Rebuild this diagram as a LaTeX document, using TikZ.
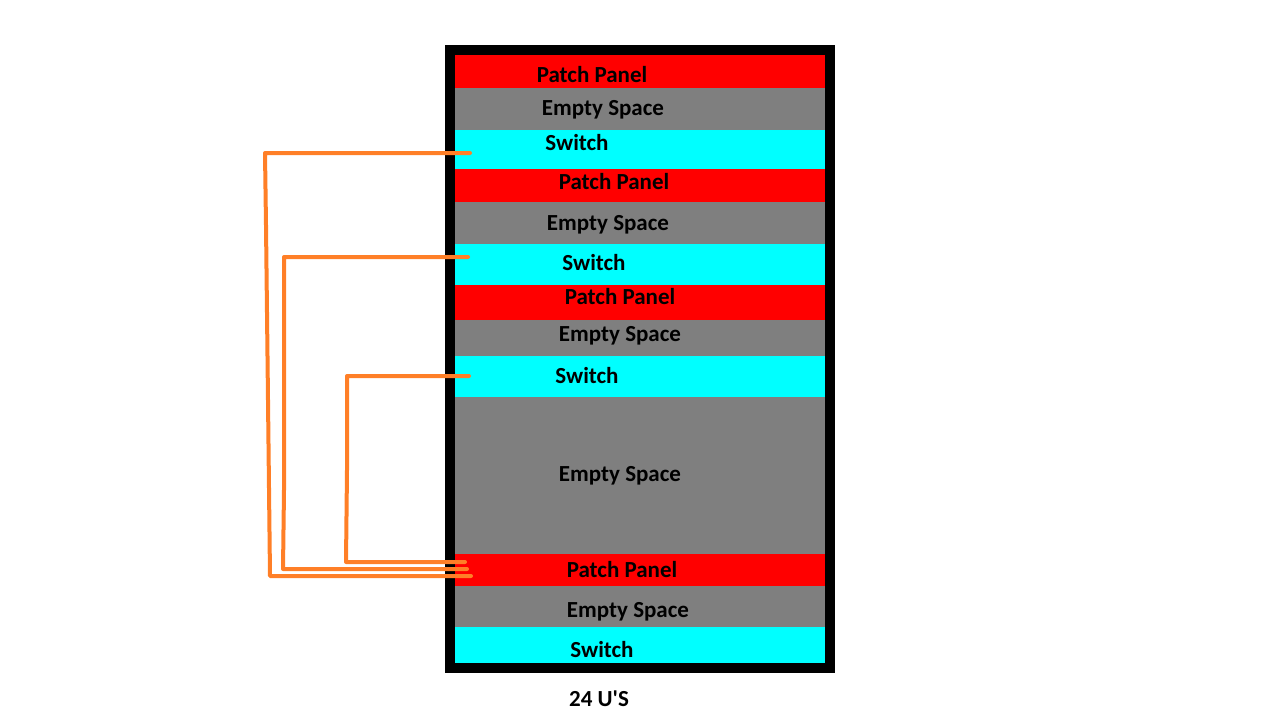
\documentclass[tikz,border=0pt]{standalone}
\usepackage{fontspec}
\setmainfont{Carlito}
\definecolor{pporange}{HTML}{FF7F27}
\definecolor{ppgray}{HTML}{7F7F7F}
\definecolor{ppcyan}{HTML}{00FFFF}
\definecolor{ppred}{HTML}{FF0000}
\begin{document}
\begin{tikzpicture}[x=1pt,y=-1pt,
  band/.style={draw=none,inner sep=0pt,outer sep=0pt,minimum width=370pt,anchor=north west},
  pp/.style={band,fill=ppred},
  es/.style={band,fill=ppgray},
  sw/.style={band,fill=ppcyan},
  lbl/.style={font=\fontsize{23}{26}\selectfont\bfseries,text=black,inner sep=0pt},
  cable/.style={draw=pporange,line width=4pt,line cap=round,line join=round}]
\useasboundingbox (0,0) rectangle (1280,720);
\fill[black] (445,45) rectangle (835,673);
% bands
\node[pp,minimum height=33pt] (pp1) at (455,55) {};
\node[es,minimum height=42pt] (es1) at (455,88) {};
\node[sw,minimum height=39pt] (sw1) at (455,130) {};
\node[pp,minimum height=33pt] (pp2) at (455,169) {};
\node[es,minimum height=42pt] (es2) at (455,202) {};
\node[sw,minimum height=41pt] (sw2) at (455,244) {};
\node[pp,minimum height=35pt] (pp3) at (455,285) {};
\node[es,minimum height=36pt] (es3) at (455,320) {};
\node[sw,minimum height=41pt] (sw3) at (455,356) {};
\node[es,minimum height=157pt] (es4) at (455,397) {};
\node[pp,minimum height=32pt] (pp4) at (455,554) {};
\node[es,minimum height=41pt] (es5) at (455,586) {};
\node[sw,minimum height=36pt] (sw4) at (455,627) {};
% labels
\node[lbl] (t1) at (592,75) {Patch Panel};
\node[lbl] (t2) at (603,109.5) {Empty Space};
\node[lbl] (t3) at (577,143) {Switch};
\node[lbl] (t4) at (614,182) {Patch Panel};
\node[lbl] (t5) at (608,224.5) {Empty Space};
\node[lbl] (t6) at (594,263) {Switch};
\node[lbl] (t7) at (620,297) {Patch Panel};
\node[lbl] (t8) at (620,335.5) {Empty Space};
\node[lbl] (t9) at (587,376) {Switch};
\node[lbl] (t10) at (620,475.5) {Empty Space};
\node[lbl] (t11) at (622,570) {Patch Panel};
\node[lbl] (t12) at (628,611.5) {Empty Space};
\node[lbl] (t13) at (602,650) {Switch};
\node[lbl] (t14) at (599,699) {24 U\textquotesingle S};
% cable endpoints
\coordinate (s1) at (470,153);
\coordinate (s2) at (468,257);
\coordinate (s3) at (469,376);
\coordinate (p1) at (471,576);
\coordinate (p2) at (467,569);
\coordinate (p3) at (465,562);
% cables
\draw[cable] (s1) -- (265,153) -- (266,225) -- (268,400) -- (270,576) -- (p1);
\draw[cable] (s2) -- (284,257) -- (284,490) -- (283,569) -- (p2);
\draw[cable] (s3) -- (347,376) -- (347,470) -- (346,562) -- (p3);
\end{tikzpicture}
\end{document}
